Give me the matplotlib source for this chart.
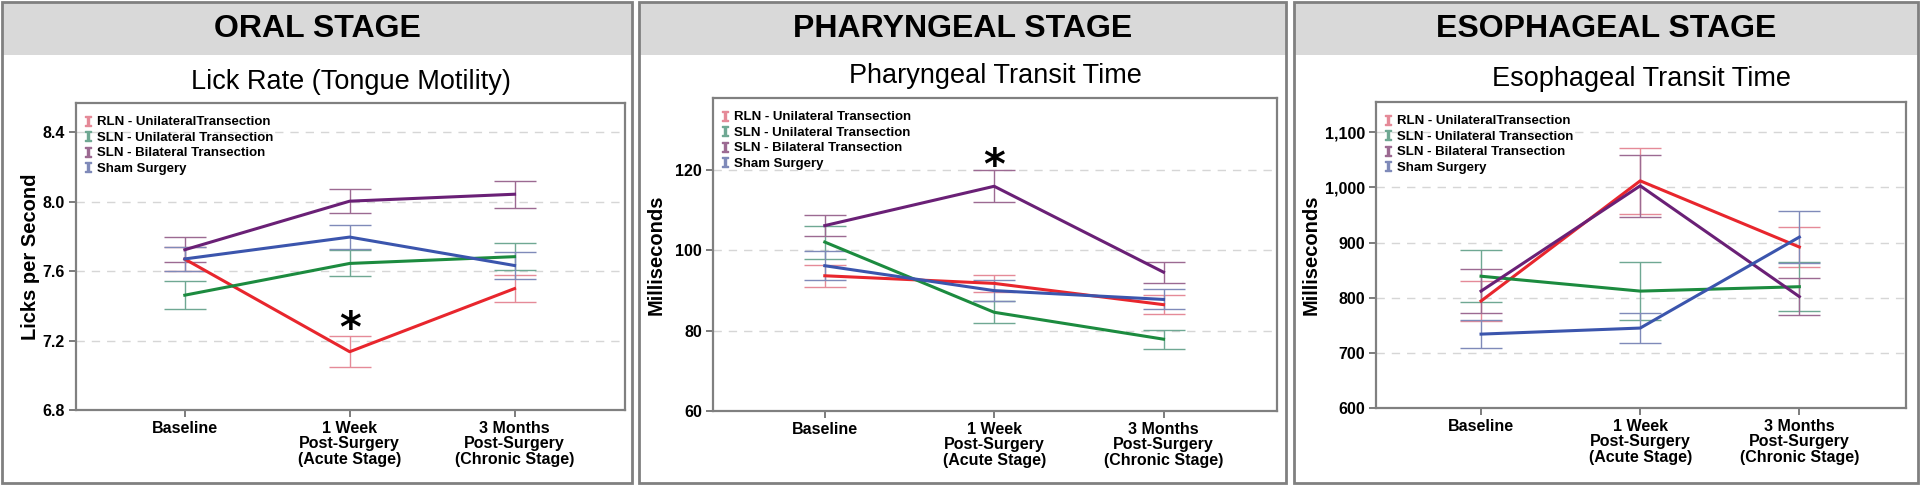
import matplotlib.pyplot as plt
from matplotlib.patches import Rectangle
from matplotlib.lines import Line2D
from matplotlib.ticker import FuncFormatter

plt.rcParams['font.family'] = ['Liberation Sans', 'DejaVu Sans']

# ---------------- data ----------------
x_labels = ['Baseline', '1 Week\nPost-Surgery\n(Acute Stage)', '3 Months\nPost-Surgery\n(Chronic Stage)']
legend_a = ['RLN - UnilateralTransection', 'SLN - Unilateral Transection',
            'SLN - Bilateral Transection', 'Sham Surgery']
legend_b = ['RLN - Unilateral Transection', 'SLN - Unilateral Transection',
            'SLN - Bilateral Transection', 'Sham Surgery']

# oral stage - lick rate (licks per second)
lick_rln = [7.67, 7.136, 7.50]
lick_rln_err = [0.07, 0.09, 0.077]
lick_sln_uni = [7.462, 7.645, 7.684]
lick_sln_uni_err = [0.082, 0.075, 0.078]
lick_sln_bi = [7.724, 8.004, 8.044]
lick_sln_bi_err = [0.073, 0.068, 0.078]
lick_sham = [7.671, 7.797, 7.633]
lick_sham_err = [0.07, 0.068, 0.077]

# pharyngeal stage - transit time (ms)
phar_rln = [93.7, 91.8, 86.5]
phar_rln_err = [2.8, 2.1, 2.4]
phar_sln_uni = [102.1, 84.6, 77.9]
phar_sln_uni_err = [4.1, 2.7, 2.4]
phar_sln_bi = [106.2, 116.0, 94.6]
phar_sln_bi_err = [2.7, 4.0, 2.65]
phar_sham = [96.2, 90.0, 87.8]
phar_sham_err = [3.6, 2.7, 2.5]

# esophageal stage - transit time (ms)
eso_rln = [794, 1012, 892]
eso_rln_err = [36, 60, 37]
eso_sln_uni = [839, 812, 820]
eso_sln_uni_err = [47, 53, 44]
eso_sln_bi = [812, 1003, 802]
eso_sln_bi_err = [40, 56, 34]
eso_sham = [734, 745, 910]
eso_sham_err = [25, 27, 47]

line_colors = ['#e8262d', '#1c8b3f', '#6a2076', '#3b55ad']
err_colors = ['#e58a98', '#6fa893', '#9c6a92', '#7f8ab9']

W, H = 1920, 486
fig = plt.figure(figsize=(19.2, 4.86), dpi=100)


def fx(px):
    return px / W


def fy(py):
    return 1 - py / H


panels = [
    dict(frame=(2, 632), head='ORAL STAGE', sub='Lick Rate (Tongue Motility)', sub_gap=21,
         box=(76, 103, 625, 410), ylabel='Licks per Second', ylim=(6.8, 8.57),
         yticks=[6.8, 7.2, 7.6, 8.0, 8.4], fmt=lambda v, p: '%.1f' % v,
         series=[(lick_rln, lick_rln_err), (lick_sln_uni, lick_sln_uni_err),
                 (lick_sln_bi, lick_sln_bi_err), (lick_sham, lick_sham_err)],
         labels=legend_a, star=(1, 7.262), ylab_off=36),
    dict(frame=(639, 1286), head='PHARYNGEAL STAGE', sub='Pharyngeal Transit Time', sub_gap=22,
         box=(713, 98, 1277, 411), ylabel='Milliseconds', ylim=(60, 138),
         yticks=[60, 80, 100, 120], fmt=lambda v, p: '%d' % v,
         series=[(phar_rln, phar_rln_err), (phar_sln_uni, phar_sln_uni_err),
                 (phar_sln_bi, phar_sln_bi_err), (phar_sham, phar_sham_err)],
         labels=legend_b, star=(1, 120.8), ylab_off=47),
    dict(frame=(1294, 1918), head='ESOPHAGEAL STAGE', sub='Esophageal Transit Time', sub_gap=23,
         box=(1376, 102, 1906, 408), ylabel='Milliseconds', ylim=(600, 1155),
         yticks=[600, 700, 800, 900, 1000, 1100], fmt=lambda v, p: '{:,.0f}'.format(v),
         series=[(eso_rln, eso_rln_err), (eso_sln_uni, eso_sln_uni_err),
                 (eso_sln_bi, eso_sln_bi_err), (eso_sham, eso_sham_err)],
         labels=legend_a, star=None, ylab_off=55),
]

xs = [0, 1, 2]

for p in panels:
    x0, x1 = p['frame']
    # header band and panel frame
    fig.add_artist(Rectangle((fx(x0), fy(55)), fx(x1 - x0), 53 / H, transform=fig.transFigure,
                             facecolor='#d9d9d9', edgecolor='none', zorder=0))
    fig.add_artist(Rectangle((fx(x0), fy(483)), fx(x1 - x0), 481 / H, transform=fig.transFigure,
                             facecolor='none', edgecolor='#808080', lw=2, zorder=1))
    fig.text(fx((x0 + x1) / 2), fy(29), p['head'], ha='center', va='center',
             fontsize=23, fontweight='bold')

    l, t, r, b = p['box']
    ax = fig.add_axes([fx(l), fy(b), fx(r - l), (b - t) / H])
    for i, (vals, errs) in enumerate(p['series']):
        ax.errorbar(xs, vals, yerr=errs, fmt='none', ecolor=err_colors[i], elinewidth=1,
                    capsize=15, capthick=1, zorder=2)
    for i, (vals, errs) in enumerate(p['series']):
        ax.plot(xs, vals, color=line_colors[i], lw=2.2, zorder=3)

    if p['star']:
        ax.text(p['star'][0], p['star'][1], '*', ha='center', va='center',
                fontsize=30, fontweight='bold', family='DejaVu Sans')

    ax.set_xlim(-0.66, 2.67)
    ax.set_ylim(*p['ylim'])
    ax.set_xticks(xs)
    ax.set_xticklabels(x_labels, fontsize=11.5, fontweight='bold', linespacing=1.03)
    ax.set_yticks(p['yticks'])
    ax.yaxis.set_major_formatter(FuncFormatter(p['fmt']))
    for lab in ax.get_yticklabels():
        lab.set_fontweight('bold')
        lab.set_fontsize(11.5)
    ax.tick_params(length=5, width=1.2, color='#666666', pad=3)
    ax.yaxis.grid(True, ls=(0, (6, 5)), color='#d6d6d6', lw=1)
    ax.set_axisbelow(True)
    for s in ax.spines.values():
        s.set_color('#808080')
        s.set_linewidth(1.6)

    ax.text(0.5, 1 + p['sub_gap'] / (b - t), p['sub'], transform=ax.transAxes,
            ha='center', va='center', fontsize=19.5)
    ax.set_ylabel(p['ylabel'], fontsize=14.5, fontweight='bold')
    ax.yaxis.set_label_coords(-p['ylab_off'] / (r - l), 0.5)

    handles = [Line2D([], [], ls='none', marker=r'$\mathtt{I}$', markersize=7,
                      color=err_colors[i]) for i in range(4)]
    ax.legend(handles, p['labels'], loc='upper left',
              bbox_to_anchor=(8 / (r - l), 1 - 13 / (b - t)), frameon=False,
              prop=dict(weight='bold', size=9.5), handlelength=0.6, handletextpad=0.35,
              labelspacing=0.25, borderaxespad=0, borderpad=0)

fig.savefig('out.png', dpi=100, facecolor='white')
